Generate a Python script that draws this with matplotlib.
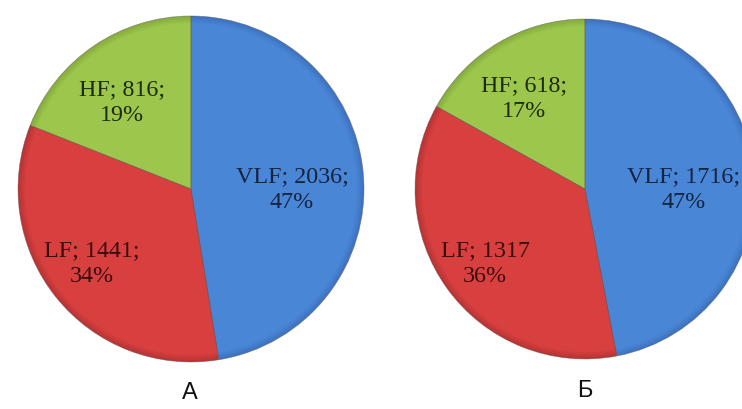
#!/usr/bin/env python3
# -*- coding: utf-8 -*-

"""
Two pie charts of HRV spectrum power (VLF / LF / HF), panels A and B.
Output: out.png
"""

import numpy as np
import matplotlib
matplotlib.use("Agg")
import matplotlib.pyplot as plt
from matplotlib.colors import to_rgb

# data
bands = ["VLF", "LF", "HF"]
values_a = [2036, 1441, 816]
values_b = [1716, 1317, 618]
pct_a = [47, 34, 19]
pct_b = [47, 36, 17]
labels_a = ["VLF; 2036;\n47%", "LF; 1441;\n34%", "HF; 816;\n19%"]
labels_b = ["VLF; 1716;\n47%", "LF; 1317\n36%", "HF; 618;\n17%"]
panel_titles = ["А", "Б"]

# styling
base_colors = ["#4a86d6", "#d83f3f", "#9cc64c"]
edge_colors = ["#3d73c0", "#b83434", "#86ad3e"]
text_colors = ["#14233f", "#3a0d0d", "#1d2a0e"]


def mix(c1, c2, t):
    a = np.array(to_rgb(c1))
    b = np.array(to_rgb(c2))
    return tuple(a * (1 - t) + b * t)


def draw_pie(ax, values, labels, label_pos):
    # shaded rim: stack a few pies, outer ones darker
    radii = [1.0, 0.99, 0.98, 0.97, 0.96]
    for i, r in enumerate(radii):
        t = i / (len(radii) - 1)
        cols = [mix(e, b, t) for e, b in zip(edge_colors, base_colors)]
        ax.pie(values, colors=cols, startangle=90, counterclock=False,
               radius=r, wedgeprops=dict(linewidth=0))
    # thin separator lines
    ax.pie(values, colors=["none"] * 3, startangle=90, counterclock=False,
           radius=1.0, wedgeprops=dict(linewidth=0.5, edgecolor="#6a5a5a",
                                       fill=False, alpha=0.6))
    for lab, (x, y), c in zip(labels, label_pos, text_colors):
        ax.text(x, y, lab, ha="center", va="center", color=c,
                family="Liberation Serif", fontsize=17.3, linespacing=1.3)
    ax.set_xlim(-1, 1)
    ax.set_ylim(-1, 1)
    ax.set_aspect("equal")
    ax.axis("off")


fig = plt.figure(figsize=(7.42, 4.10), dpi=100)
fig.patch.set_facecolor("white")

ax_a = fig.add_axes([18 / 742, 47 / 410, 346 / 742, 346 / 410])
ax_b = fig.add_axes([415 / 742, 50 / 410, 340 / 742, 340 / 410])

draw_pie(ax_a, values_a, labels_a,
         [(0.584, 0.0), (-0.572, -0.425), (-0.40, 0.506)])
draw_pie(ax_b, values_b, labels_b,
         [(0.58, 0.005), (-0.588, -0.435), (-0.356, 0.54)])

fig.text(190 / 742, 1 - 393 / 410, panel_titles[0], ha="center", va="center",
         family="Liberation Sans", fontsize=17, color="#111111")
fig.text(585 / 742, 1 - 391 / 410, panel_titles[1], ha="center", va="center",
         family="Liberation Sans", fontsize=17, color="#111111")

fig.savefig("out.png", dpi=100, facecolor="white")
